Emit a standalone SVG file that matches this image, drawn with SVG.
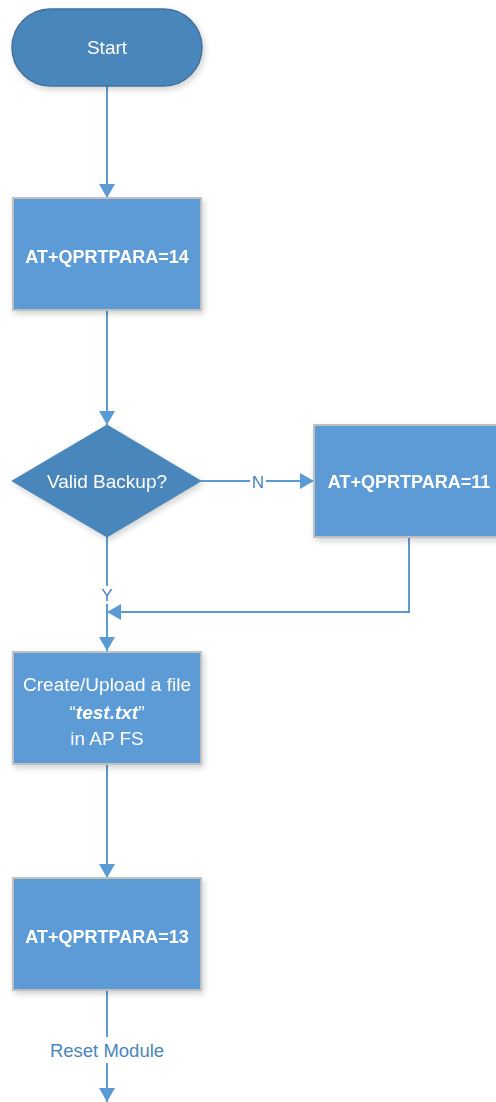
<svg xmlns="http://www.w3.org/2000/svg" width="496" height="1102" viewBox="0 0 496 1102">
<style>
.term{fill:#4a86bb;stroke:#41719c;stroke-width:1.5}
.dec{fill:#4a86bb;stroke:#4a86bb;stroke-width:1}
.box{fill:#5b9bd5;stroke:#c0c0c0;stroke-width:2}
.t{font-family:"Liberation Sans",Arial,sans-serif;fill:#ffffff;text-anchor:middle;dominant-baseline:central}
.tb{font-weight:bold;font-size:18px}
.tr{font-size:19px}
.conn{fill:none;stroke:#5b9bd5;stroke-width:2}
.lbl{font-family:"Liberation Sans",Arial,sans-serif;fill:#4a86bb;text-anchor:middle;dominant-baseline:central;font-size:17px}
.lblb{font-size:18.5px}
</style>
<defs>
<marker id="ah" viewBox="0 0 14 16" refX="14" refY="8" markerWidth="14" markerHeight="16" markerUnits="userSpaceOnUse" orient="auto">
<path d="M0,0 L14,8 L0,16 z" fill="#5b9bd5"/>
</marker>
<filter id="sh" x="-10%" y="-10%" width="130%" height="130%">
<feGaussianBlur in="SourceAlpha" stdDeviation="3"/>
<feOffset dx="2" dy="3"/>
<feComponentTransfer><feFuncA type="linear" slope="0.18"/></feComponentTransfer>
<feMerge><feMergeNode/><feMergeNode in="SourceGraphic"/></feMerge>
</filter>
</defs>
<g id="connectors">
<path class="conn" d="M107,86 L107,198" marker-end="url(#ah)"/>
<path class="conn" d="M107,310 L107,425" marker-end="url(#ah)"/>
<path class="conn" d="M201,481 L314,481" marker-end="url(#ah)"/>
<path class="conn" d="M107,537 L107,651" marker-end="url(#ah)"/>
<path class="conn" d="M409,537 L409,612 L107,612" marker-end="url(#ah)"/>
<path class="conn" d="M107,765 L107,878" marker-end="url(#ah)"/>
<path class="conn" d="M107,990 L107,1102" marker-end="url(#ah)"/>
<rect x="250" y="472" width="16" height="18" fill="#ffffff"/>
<text class="lbl" x="258" y="482">N</text>
<rect x="100" y="586" width="14" height="18" fill="#ffffff"/>
<text class="lbl" x="107" y="595">Y</text>
<rect x="44" y="1037" width="126" height="26" fill="#ffffff"/>
<text class="lbl lblb" x="107" y="1050">Reset Module</text>
</g>
<g id="start" filter="url(#sh)">
<rect class="term" x="12" y="9" width="190" height="77" rx="38.5" ry="38.5"/>
<text class="t tr" x="107" y="47">Start</text>
</g>
<g id="para14" filter="url(#sh)">
<rect class="box" x="13" y="198" width="188" height="112"/>
<text class="t tb" x="107" y="257">AT+QPRTPARA=14</text>
</g>
<g id="valid" filter="url(#sh)">
<polygon class="dec" points="107,425 201,481 107,537 12,481"/>
<text class="t tr" x="107" y="481">Valid Backup?</text>
</g>
<g id="para11" filter="url(#sh)">
<rect class="box" x="314" y="425" width="190" height="112"/>
<text class="t tb" x="409" y="482">AT+QPRTPARA=11</text>
</g>
<g id="upload" filter="url(#sh)">
<rect class="box" x="13" y="652" width="188" height="112"/>
<text class="t tr" x="107" y="684">Create/Upload a file</text>
<text class="t tr" x="107" y="712">“<tspan font-weight="bold" font-style="italic">test.txt</tspan>”</text>
<text class="t tr" x="107" y="738">in AP FS</text>
</g>
<g id="para13" filter="url(#sh)">
<rect class="box" x="13" y="878" width="188" height="112"/>
<text class="t tb" x="107" y="937">AT+QPRTPARA=13</text>
</g>
</svg>
